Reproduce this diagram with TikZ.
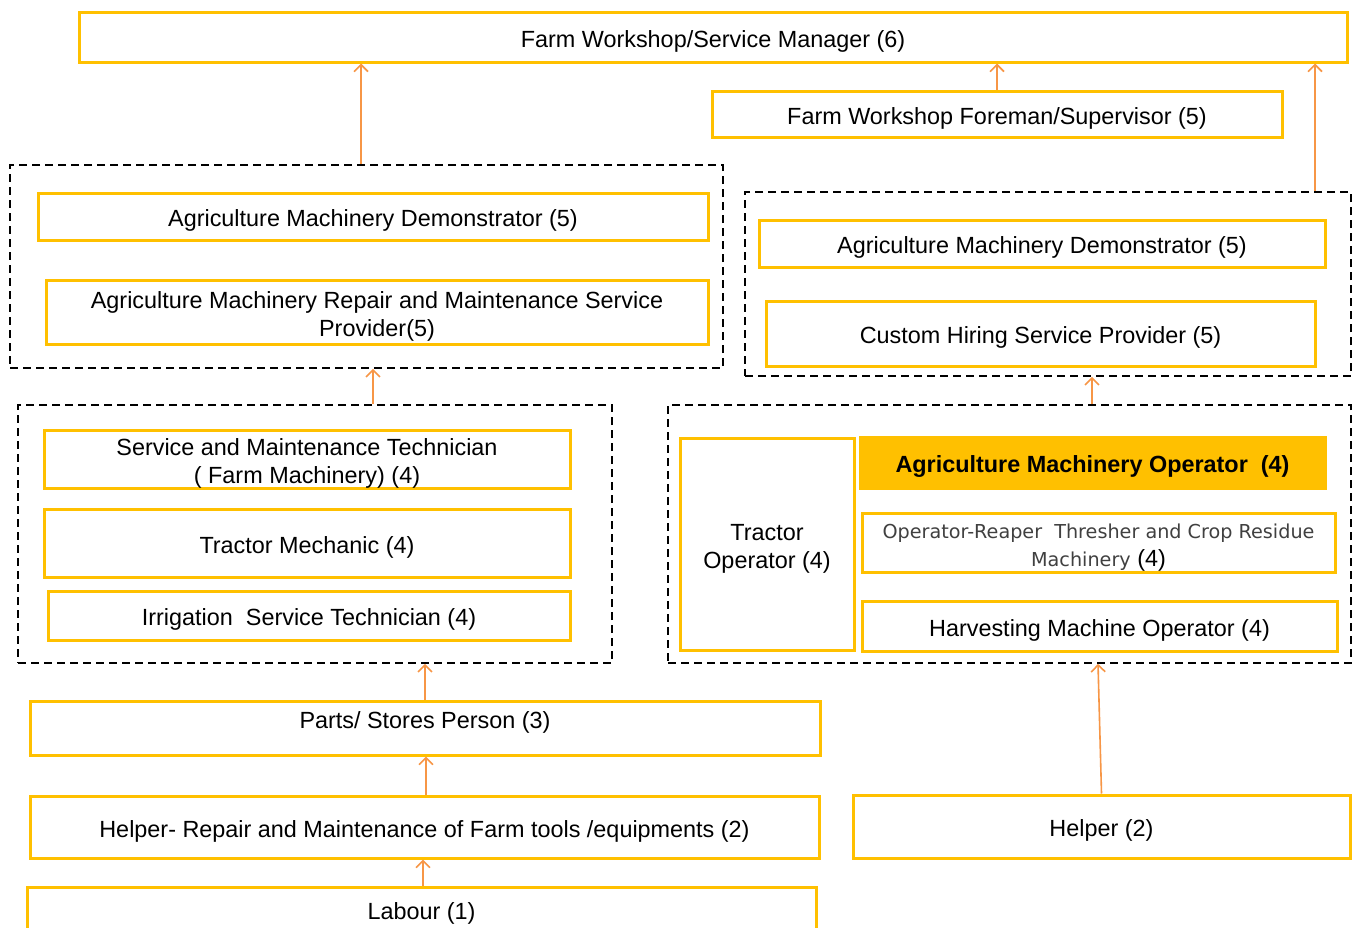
\documentclass[tikz,border=0pt]{standalone}
\usepackage{fontspec}
\setmainfont{Liberation Sans}
\newfontfamily\opf{DejaVu Sans}
\usetikzlibrary{arrows.meta,calc}
\definecolor{gold}{HTML}{FFC000}
\definecolor{arrowc}{HTML}{F79646}
\newcommand{\up}{\rule{0pt}{25pt}}
\newcommand{\rbox}[7]{\node[#1, minimum width={(#4)-(#2)}, minimum height={(#5)-(#3)}] (#6) at ({((#2)+(#4))/2},{-((#3)+(#5))/2}) {\up#7};}
\tikzset{
  gbox/.style={draw=gold, line width=3pt, inner sep=0pt, align=center, font=\fontsize{23.4}{28}\selectfont},
  fbox/.style={gbox, fill=gold, font=\fontsize{23.4}{28}\selectfont\bfseries},
  dgrp/.style={draw=black, line width=1.6pt, dash pattern=on 8pt off 5pt, inner sep=0pt},
  txt/.style={inner sep=0pt, align=center, font=\fontsize{23.4}{28}\selectfont},
  arr/.style={draw=arrowc, line width=1.6pt, -{Straight Barb[length=7pt,width=14pt]}}
}
\begin{document}
\begin{tikzpicture}[x=1pt,y=1pt]
\clip (0,0) rectangle (1352,-927);
\fill[white] (0,0) rectangle (1352,-927);
% top
\rbox{gbox}{79}{12}{1347}{62}{top}{Farm Workshop/Service Manager (6)}
\rbox{gbox}{712}{91}{1282}{137}{fore}{Farm Workshop Foreman/Supervisor (5)}
% dashed groups
\node[dgrp, minimum width=713, minimum height=203] (g1) at (366.5,-266.5) {};
\node[dgrp, minimum width=606, minimum height=184] (g2) at (1048,-284) {};
\node[dgrp, minimum width=594, minimum height=258] (g3) at (315,-534) {};
\node[dgrp, minimum width=683, minimum height=258] (g4) at (1009.5,-534) {};
% group 1
\rbox{gbox}{38}{193}{708}{240}{demoL}{Agriculture Machinery Demonstrator (5)}
\rbox{gbox}{46}{280}{708}{344}{repair}{Agriculture Machinery Repair and Maintenance Service\\Provider(5)}
% group 2
\rbox{gbox}{759}{220}{1325}{267}{demoR}{Agriculture Machinery Demonstrator (5)}
\rbox{gbox}{766}{301}{1315}{366}{custom}{Custom Hiring Service Provider (5)}
% group 3
\rbox{gbox}{44}{430}{570}{488}{svc}{Service and Maintenance Technician\\( Farm Machinery) (4)}
\rbox{gbox}{44}{509}{570}{577}{mech}{Tractor Mechanic (4)}
\rbox{gbox}{48}{591}{570}{640}{irr}{Irrigation~ Service Technician (4)}
% group 4
\rbox{gbox}{680}{438}{854}{650}{trop}{Tractor\\Operator (4)}
\rbox{fbox}{860}{437}{1325}{488}{amo}{Agriculture Machinery Operator~ (4)}
\rbox{gbox}{862}{513}{1335}{572}{reaper}{{\opf\fontsize{19.2}{28}\selectfont\color{black!75}Operator-Reaper~ Thresher and Crop Residue}\\{\opf\fontsize{19.2}{28}\selectfont\color{black!75}Machinery} (4)}
\rbox{gbox}{862}{601}{1337}{651}{harv}{Harvesting Machine Operator (4)}
% bottom
\rbox{gbox}{30}{701}{820}{755}{parts}{}
\node[txt] (partsT) at (425,-722) {Parts/ Stores Person (3)};
\rbox{gbox}{30}{796}{819}{858}{helpR}{Helper- Repair and Maintenance of Farm tools /equipments (2)}
\rbox{gbox}{27}{887}{816}{931}{labour}{Labour (1)}
\rbox{gbox}{853}{795}{1350}{858}{help2}{Helper (2)}
% arrows
\draw[arr] (fore.north) -- (fore.north |- top.south);
\draw[arr] ($(g1.north)+(-5.5,0)$) -- ($(g1.north |- top.south)+(-5.5,0)$);
\draw[arr] ($(g2.north)+(267,0)$) -- ($(g2.north |- top.south)+(267,0)$);
\draw[arr] ($(g3.north)+(58,0)$) -- ($(g3.north |- g1.south)+(58,0)$);
\draw[arr] ($(g4.north)+(82.5,0)$) -- ($(g4.north |- g2.south)+(82.5,0)$);
\draw[arr] (parts.north) -- (parts.north |- g3.south);
\draw[arr] ($(helpR.north)+(1.5,0)$) -- ($(helpR.north |- parts.south)+(1.5,0)$);
\draw[arr] ($(labour.north)+(1.5,0)$) -- ($(labour.north |- helpR.south)+(1.5,0)$);
\draw[arr] (help2.north) -- ($(help2.north |- g4.south)+(-3.5,0)$);
\end{tikzpicture}
\end{document}
